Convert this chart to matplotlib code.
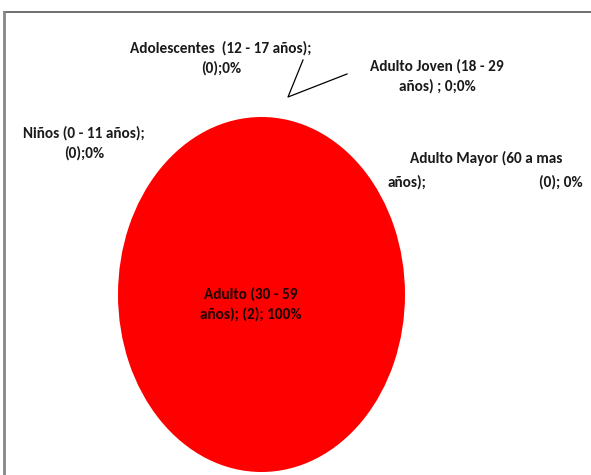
import matplotlib
matplotlib.use("Agg")
import matplotlib.pyplot as plt
from matplotlib.lines import Line2D

# ---- data ----
categories = ["Niños (0 - 11 años)", "Adolescentes  (12 - 17 años)",
              "Adulto Joven (18 - 29 años)", "Adulto (30 - 59 años)",
              "Adulto Mayor (60 a mas años)"]
counts = [0, 0, 0, 2, 0]
percents = [0, 0, 0, 100, 0]
colors = ["#4f81bd", "#c0504d", "#9bbb59", "#ff0000", "#8064a2"]

W, H = 591, 475
fig = plt.figure(figsize=(W / 100, H / 100), dpi=100)
fig.patch.set_facecolor("white")

def fx(px):
    return px / W

def fy(py):
    return 1 - py / H

lab_font = ["Carlito", "DejaVu Sans"]

# pie axes: ellipse spans x 118-405, y 117-472 (pixels)
ax = fig.add_axes([fx(118), fy(472), fx(405) - fx(118), fy(117) - fy(472)])
ax.pie(counts, colors=colors, startangle=90, counterclock=False,
       wedgeprops=dict(linewidth=0))
ax.set_aspect("auto")
ax.set_xlim(-1, 1)
ax.set_ylim(-1, 1)
ax.axis("off")

# chart border (top and left visible)
fig.add_artist(Line2D([fx(4), 1.0], [fy(12), fy(12)], transform=fig.transFigure,
                      color="#555555", lw=1.2))
fig.add_artist(Line2D([fx(4), fx(4)], [fy(12), 0.0], transform=fig.transFigure,
                      color="#888888", lw=2.0))

# partially cropped title at top (only descenders visible, as in the reference)
fig.text(fx(5), fy(-5), "Figura 4: Distribución de la muestra por grupo etario",
         ha="left", va="baseline", fontsize=22, fontweight="bold",
         family=lab_font, color="black")

tc = "#1a1a1a"
fs = 11

def lab(x, y, s, ha="center", color=tc):
    fig.text(fx(x), fy(y), s, ha=ha, va="center", fontsize=fs, fontweight="bold",
             family=lab_font, color=color, linespacing=1.5)

lab(221, 58, f"{categories[1]};\n({counts[1]});{percents[1]}%")
lab(437, 76, f"Adulto Joven (18 - 29\naños) ; {counts[2]};{percents[2]}%")
lab(84, 143, f"{categories[0]};\n({counts[0]});{percents[0]}%")
lab(486, 158, "Adulto Mayor (60 a mas")
lab(388, 182, "años);", ha="left")
lab(583, 182, f"({counts[4]}); {percents[4]}%", ha="right")
lab(251, 304, f"Adulto (30 - 59\naños); ({counts[3]}); {percents[3]}%", color="#1a0000")

# leader lines
fig.add_artist(Line2D([fx(303), fx(288), fx(347)], [fy(60), fy(97), fy(74)],
                      transform=fig.transFigure, color="black", lw=0.9))

fig.savefig("out.png", dpi=100)
